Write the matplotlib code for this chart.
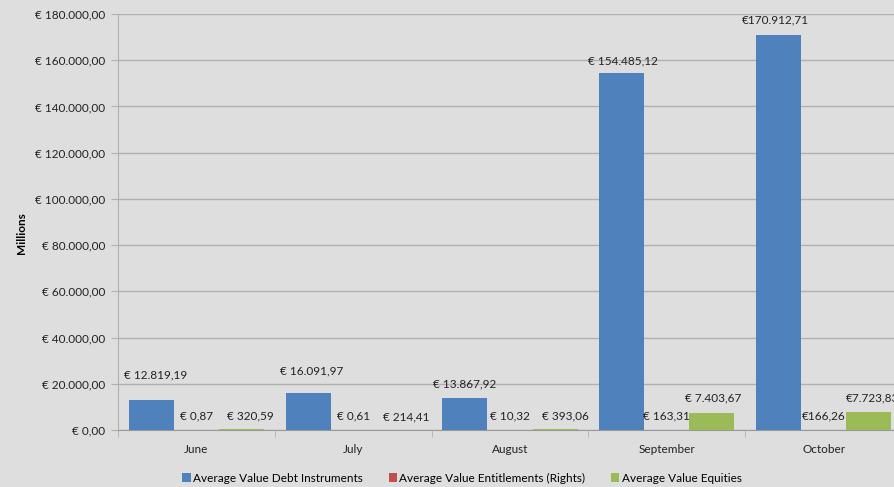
import matplotlib.pyplot as plt
import numpy as np

months = ["June", "July", "August", "September", "October"]
debt = [12819.19, 16091.97, 13867.92, 154485.12, 170912.71]
rights = [0.87, 0.61, 10.32, 163.31, 166.26]
equities = [320.59, 214.41, 393.06, 7403.67, 7723.83]
series_names = ["Average Value Debt Instruments",
                "Average Value Entitlements (Rights)",
                "Average Value Equities"]
# the October labels in the source have no space after the euro sign
euro_gap = [" ", " ", " ", " ", ""]

colors = ["#4F81BD", "#C0504D", "#9BBB59"]
bg = "#dedede"
grid_c = "#b0b0b0"


def eur(v, gap=" "):
    s = f"{v:,.2f}".replace(",", "X").replace(".", ",").replace("X", ".")
    return "€" + gap + s


plt.rcParams["font.family"] = ["Lato", "DejaVu Sans"]
plt.rcParams["font.size"] = 8.5

fig = plt.figure(figsize=(8.94, 4.87), dpi=100, facecolor=bg)
ax = fig.add_axes([118 / 894, 57 / 487, 784 / 894, 416 / 487], facecolor=bg)

x = np.arange(len(months))
w = 0.287
# label offsets in pixels from each bar top (dx, dy)
offs_y = [[25, 22, 14, 12, 15], [14, 14, 14, 14, 14], [13, 13, 13, 15, 14]]
offs_x = [[4, 3, 0, 1, -3], [0, 0, 0, 0, 0], [9, 8, 10, 1, 4]]

for i, vals in enumerate([debt, rights, equities]):
    pos = x + (i - 1) * w
    ax.bar(pos, vals, width=w, color=colors[i], label=series_names[i], zorder=3)
    for j, v in enumerate(vals):
        ax.annotate(eur(v, euro_gap[j]), (pos[j], v),
                    xytext=(offs_x[i][j], offs_y[i][j]),
                    textcoords="offset pixels", ha="center", va="center",
                    fontsize=8.5, color="#222222", zorder=4)

ax.set_xlim(-0.5, 4.5)
ax.set_ylim(0, 180000)
yt = np.arange(0, 180001, 20000)
ax.set_yticks(yt)
ax.set_yticklabels([eur(v) for v in yt])
ax.yaxis.grid(True, color=grid_c, linewidth=1, zorder=0)
ax.set_xticks(x)
ax.set_xticklabels(months)
ax.set_xticks(np.arange(-0.5, 5, 1), minor=True)
ax.tick_params(axis="x", which="major", length=0, pad=10, colors="#222222")
ax.tick_params(axis="x", which="minor", length=5, color=grid_c)
ax.tick_params(axis="y", length=5, color=grid_c, colors="#222222", pad=4)

for s in ["top", "right"]:
    ax.spines[s].set_visible(False)
ax.spines["left"].set_color(grid_c)
ax.spines["bottom"].set_color("#999999")

fig.text(22 / 894, 1 - 233 / 487, "Millions", rotation=90, ha="center",
         va="center", fontweight="bold", fontsize=8.5)

fig.legend(loc="center", bbox_to_anchor=(462 / 894, 1 - 478 / 487), ncol=3,
           frameon=False, handlelength=0.7, handleheight=0.7,
           handletextpad=0.2, columnspacing=2.2, fontsize=8.5)

fig.savefig("out.png", dpi=100, facecolor=bg)
